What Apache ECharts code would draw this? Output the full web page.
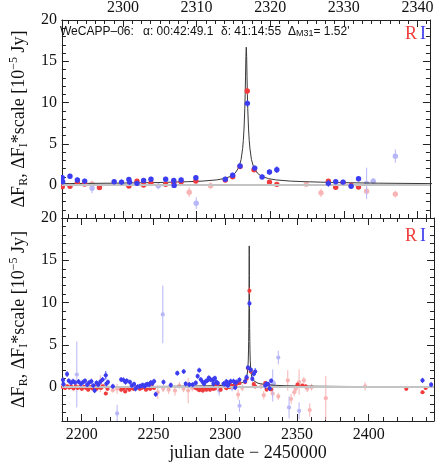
<!DOCTYPE html>
<html>
<head>
<meta charset="utf-8">
<script src="https://cdn.jsdelivr.net/npm/echarts@6/dist/echarts.min.js"></script>
<style>
html, body { margin: 0; padding: 0; background: #fff; }
#chart { width: 436px; height: 463px; }
</style>
</head>
<body>
<div id="chart"></div>
<script>
// R band, good points (julian date - 2450000, flux in 1e-5 Jy, error)
var rDay = [
  2187.0, 2188.4, 2189.9, 2191.3, 2192.7, 2194.3, 2195.8, 2197.2, 2198.7, 2200.1, 2201.6, 2203.0, 2204.5, 2206.0, 2207.4, 2208.8, 2210.3, 2211.7, 2213.4, 2214.8, 2216.8, 2218.0,
  2227.5, 2229.0, 2230.3, 2231.8, 2233.2, 2234.7, 2236.1, 2237.6, 2239.0, 2240.5, 2241.9, 2243.4, 2244.8, 2246.3, 2247.7, 2249.2, 2250.4,
  2279.3, 2280.6, 2281.9, 2283.1, 2284.4, 2285.6, 2286.9, 2288.1, 2289.4, 2290.6,
  2291.75, 2292.8, 2293.8, 2294.8, 2296.8, 2300.8, 2301.9, 2302.8, 2303.8, 2305.8, 2306.9, 2307.9, 2309.9, 2313.9, 2314.9, 2315.9, 2316.88, 2317.8, 2319.9, 2320.9, 2327.9, 2328.9, 2329.9, 2331.0, 2332.0,
  2350.4, 2353.7, 2356.0, 2426.2, 2437.5, 2439.7
];
var rFlux = [
  0.0, -0.1, 0.1, -0.05, 0.05, -0.15, 0.1, -0.1, 0.0, -0.2, 0.05, -0.1, -0.3, 0.0, -0.15, 0.1, -0.2, 0.0, -0.1, 0.1, -0.75, -0.2,
  -0.3, -0.15, -0.5, -0.1, -0.3, -0.1, -0.2, -0.05, 0.0, -0.2, -0.1, 0.0, -0.3, -0.1, -0.2, 0.0, -0.1,
  -0.1, -0.2, -0.35, -0.2, -0.4, -0.2, -0.3, -0.1, -0.3, -0.1,
  -0.2, -0.16, 0.27, 0.12, -0.3, -0.12, 0.47, 0.0, 0.24, 0.08, 0.27, 0.4, 0.47, 0.6, 1.0, 2.24, 11.4, 1.85, 0.35, 0.08, 0.47, -0.28, 0.27, -0.04, -0.25,
  0.3, 0.2, 0.1, -0.2, -0.6, -0.1
];
var rErr = [
  0.2, 0.2, 0.2, 0.2, 0.2, 0.2, 0.2, 0.2, 0.2, 0.2, 0.2, 0.2, 0.2, 0.2, 0.2, 0.2, 0.2, 0.2, 0.2, 0.2, 0.2, 0.2,
  0.2, 0.2, 0.2, 0.2, 0.2, 0.2, 0.2, 0.2, 0.2, 0.2, 0.2, 0.2, 0.2, 0.2, 0.2, 0.2, 0.2,
  0.2, 0.2, 0.2, 0.2, 0.2, 0.2, 0.2, 0.2, 0.2, 0.2,
  0.2, 0.2, 0.2, 0.2, 0.2, 0.2, 0.2, 0.2, 0.2, 0.2, 0.2, 0.2, 0.2, 0.2, 0.2, 0.2, 0.4, 0.2, 0.2, 0.2, 0.2, 0.2, 0.2, 0.2, 0.2,
  0.2, 0.2, 0.2, 0.2, 0.2, 0.2
];
// R band, low-weight points (drawn pale)
var rPaleDay = [2213.0, 2221.7, 2224.7, 2253.0, 2256.8, 2260.6, 2265.0, 2268.0, 2271.0, 2274.2, 2277.0, 2295.8, 2309.0, 2311.9, 2324.9, 2326.9, 2333.1, 2337.0, 2343.6, 2345.9, 2348.1, 2349.2, 2351.5, 2354.8, 2357.2, 2358.9, 2360.2, 2370.1, 2397.5];
var rPaleFlux = [0.4, -0.35, -0.2, -0.6, -0.2, -0.3, -0.4, 0.2, -0.2, -0.4, -0.1, 0.12, -0.87, -0.08, 0.08, -0.95, -0.75, -1.1, 0.8, -1.4, -0.6, -0.2, 0.6, 0.8, -0.2, -2.7, 0.0, -1.3, 0.1];
var rPaleErr = [1.0, 0.3, 0.6, 0.8, 0.4, 0.5, 0.6, 0.4, 0.4, 1.5, 0.4, 0.4, 0.6, 0.4, 0.3, 0.5, 0.5, 0.4, 1.2, 0.6, 0.5, 0.4, 1.5, 0.4, 0.4, 0.8, 0.4, 2.6, 0.5];

// I band (scaled), good points
var iDay = [
  2187.0, 2187.3, 2189.8, 2191.0, 2192.6, 2194.0, 2195.3, 2197.8, 2199.5, 2201.0, 2202.3, 2203.8, 2205.2, 2206.7, 2208.0, 2209.0, 2210.3, 2211.5, 2213.0, 2214.6, 2216.8, 2217.2, 2218.3, 2221.7,
  2227.5, 2229.1, 2230.5, 2231.4, 2233.6, 2235.0, 2236.5, 2237.5, 2239.0, 2240.4, 2241.5, 2242.6, 2243.8, 2244.9, 2246.0, 2247.1, 2248.2, 2249.3, 2250.4, 2251.6,
  2257.0, 2262.1, 2266.6, 2271.1, 2272.5, 2275.0, 2277.4, 2279.5, 2280.8, 2281.9, 2283.0, 2284.3, 2285.3, 2286.5, 2287.6, 2288.6, 2289.7, 2290.9,
  2291.75, 2291.8, 2292.8, 2293.8, 2294.8, 2298.8, 2299.8, 2300.8, 2300.9, 2301.9, 2302.8, 2303.8, 2305.8, 2306.9, 2306.95, 2307.9, 2309.9, 2313.9, 2314.9, 2315.9, 2316.9, 2317.9, 2318.9, 2319.9, 2320.9, 2327.9, 2328.9, 2329.9, 2331.0, 2332.0,
  2437.5, 2443.5
];
var iFlux = [
  0.85, 0.35, 1.55, 0.75, 0.5, 0.7, 0.55, 0.65, 0.4, 0.6, 0.75, 0.3, 0.55, 0.7, 0.2, -0.4, 0.5, 0.3, 0.65, 0.9, 1.4, 0.4, 0.6, 0.1,
  0.9, 0.85, 0.6, 0.75, 0.6, 0.2, 0.35, -0.2, 0.05, 0.1, 0.15, 0.25, 0.1, 0.3, 0.35, 0.3, 0.55, 0.45, 0.7, -0.85,
  0.6, 0.25, 1.65, 1.85, 0.4, 0.3, 0.3, 0.5, 1.3, 2.0, 0.9, 0.6, 0.4, 0.7, 0.8, 1.1, 0.9, 0.85,
  0.9, 0.4, 1.06, 0.6, 0.47, 0.4, 0.35, 0.67, 0.35, 0.2, 0.55, 0.7, 0.7, 0.55, -0.05, 0.6, 0.87, 0.7, 1.18, 2.3, 9.9, 2.05, 0.98, 1.57, 1.85, 0.2, 0.4, 0.35, -0.16, 0.75,
  0.8, 0.3
];
var iErr = [
  0.3, 0.3, 0.35, 0.3, 0.3, 0.3, 0.3, 0.3, 0.3, 0.3, 0.3, 0.3, 0.3, 0.3, 0.3, 0.3, 0.3, 0.3, 0.3, 0.3, 0.5, 0.3, 0.3, 0.3,
  0.3, 0.3, 0.3, 0.3, 0.3, 0.3, 0.3, 0.3, 0.3, 0.3, 0.3, 0.3, 0.3, 0.3, 0.3, 0.3, 0.3, 0.3, 0.3, 0.3,
  0.3, 0.3, 0.3, 0.3, 0.3, 0.3, 0.3, 0.3, 0.3, 0.3, 0.3, 0.3, 0.3, 0.3, 0.3, 0.3, 0.3, 0.3,
  0.3, 0.3, 0.3, 0.3, 0.3, 0.3, 0.3, 0.3, 0.3, 0.3, 0.3, 0.3, 0.3, 0.3, 0.3, 0.3, 0.3, 0.3, 0.3, 0.3, 0.4, 0.3, 0.3, 0.3, 0.4, 0.4, 0.3, 0.3, 0.3, 0.3,
  0.3, 0.3
];
// I band, low-weight points
var iPaleDay = [2196.6, 2224.7, 2256.5, 2295.8, 2304.8, 2309.95, 2333.1, 2334.0, 2337.0, 2344.5, 2351.5];
var iPaleFlux = [1.5, -3.1, 8.6, -0.4, -0.1, -2.2, 0.2, 0.45, 3.5, -2.4, -2.8];
var iPaleErr = [3.9, 1.0, 3.4, 0.6, 0.4, 0.7, 1.9, 0.4, 0.8, 1.3, 1.0];

// microlensing fit
var fitDay = [2186.2, 2246.75, 2276.75, 2291.75, 2298.75, 2304.75, 2308.75, 2310.75, 2312.75, 2313.75, 2314.75, 2315.25, 2315.75, 2316.05, 2316.25, 2316.35, 2316.45, 2316.55, 2316.6, 2316.65, 2316.7, 2316.75,
  2316.8, 2316.85, 2316.9, 2316.95, 2317.05, 2317.15, 2317.25, 2317.45, 2317.75, 2318.25, 2318.75, 2319.75, 2320.75, 2322.75, 2324.75, 2328.75, 2334.75, 2341.75, 2356.75, 2386.75, 2445.5];
var fitFlux = [0.05, 0.08, 0.12, 0.17, 0.22, 0.3, 0.4, 0.47, 0.62, 0.78, 1.08, 1.45, 2.15, 3.1, 4.4, 5.4, 6.9, 9.3, 11.0, 13.2, 15.6, 16.7,
  15.6, 13.2, 11.0, 9.3, 6.9, 5.4, 4.4, 3.1, 2.15, 1.45, 1.08, 0.78, 0.62, 0.47, 0.4, 0.3, 0.22, 0.17, 0.12, 0.08, 0.05];

var zoomRange = [2291.7, 2341.7];
var fullRange = [2186.2, 2445.5];
var fluxRange = [-4, 20];

var RED = '#f03c3c', BLUE = '#3c3cf0', PALE_RED = '#f8b4b4', PALE_BLUE = '#b6b6f8';
var SERIF = '"Liberation Serif", "Times New Roman", serif';
var SANS = '"Liberation Sans", Arial, sans-serif';

function pack(days, flux, err) {
  return days.map(function (d, i) { return [d, flux[i], err[i]]; });
}

function points(axis, data, color, r, z) {
  return {
    type: 'custom',
    xAxisIndex: axis, yAxisIndex: axis,
    clip: true, z: z,
    itemStyle: { color: color },
    data: data,
    renderItem: function (params, api) {
      var t = api.value(0), f = api.value(1), e = api.value(2);
      var c = api.coord([t, f]);
      var hi = api.coord([t, f + e]);
      var lo = api.coord([t, f - e]);
      return {
        type: 'group',
        children: [
          { type: 'line', shape: { x1: c[0], y1: hi[1], x2: c[0], y2: lo[1] }, style: { stroke: color, lineWidth: 1 } },
          { type: 'circle', shape: { cx: c[0], cy: c[1], r: r }, style: { fill: color } }
        ]
      };
    }
  };
}

function panelSeries(axis, r) {
  return [
    {
      type: 'line', xAxisIndex: axis, yAxisIndex: axis, data: [], z: 1,
      markLine: { silent: true, symbol: 'none', label: { show: false },
        lineStyle: { color: '#c4c4c4', width: 2, type: 'solid' }, data: [{ yAxis: 0 }] }
    },
    points(axis, pack(rPaleDay, rPaleFlux, rPaleErr), PALE_RED, r, 2),
    points(axis, pack(iPaleDay, iPaleFlux, iPaleErr), PALE_BLUE, r, 2),
    {
      type: 'line', xAxisIndex: axis, yAxisIndex: axis, z: 3, showSymbol: false, clip: true,
      lineStyle: { color: '#383838', width: 1 },
      data: fitDay.map(function (d, i) { return [d, fitFlux[i]]; })
    },
    points(axis, pack(rDay, rFlux, rErr), RED, r, 4),
    points(axis, pack(iDay, iFlux, iErr), BLUE, r, 5)
  ];
}

function plain(v) { return String(v); }

function xAx(grid, range, pos, labels, minorSplit, name) {
  return {
    type: 'value', gridIndex: grid, position: pos, min: range[0], max: range[1], splitNumber: 5,
    axisLine: { show: true, onZero: false, lineStyle: { color: '#222', width: 1 } },
    axisTick: { show: true, inside: true, length: 7, lineStyle: { color: '#222' } },
    minorTick: { show: true, splitNumber: minorSplit, length: 4, lineStyle: { color: '#222' } },
    splitLine: { show: false },
    axisLabel: { show: labels, showMinLabel: false, showMaxLabel: false, margin: pos === 'top' ? 4 : 6,
      formatter: plain, fontFamily: SERIF, fontSize: 16, color: '#111' },
    name: name || '', nameLocation: 'middle', nameGap: 23,
    nameTextStyle: { fontFamily: SERIF, fontSize: 18, color: '#111' }
  };
}
function yAx(grid, pos, labels) {
  return {
    type: 'value', gridIndex: grid, position: pos, min: fluxRange[0], max: fluxRange[1], splitNumber: 5,
    axisLine: { show: true, onZero: false, lineStyle: { color: '#222', width: 1 } },
    axisTick: { show: true, inside: true, length: 7, lineStyle: { color: '#222' } },
    minorTick: { show: true, splitNumber: 5, length: 4, lineStyle: { color: '#222' } },
    splitLine: { show: false },
    axisLabel: { show: labels, showMinLabel: false, showMaxLabel: true, hideOverlap: false, margin: 5,
      formatter: plain, fontFamily: SERIF, fontSize: 16, color: '#111' },
    name: labels ? 'ΔF{s|R}, ΔF{s|I}*scale [10{p|−5} Jy]' : '',
    nameLocation: 'middle', nameRotate: 90, nameGap: 19,
    nameTextStyle: {
      fontFamily: SERIF, fontSize: 18, color: '#111', lineHeight: 22,
      rich: {
        s: { fontFamily: SERIF, fontSize: 12, verticalAlign: 'bottom', lineHeight: 14, color: '#111' },
        p: { fontFamily: SERIF, fontSize: 12, verticalAlign: 'top', lineHeight: 14, color: '#111' }
      }
    }
  };
}

function label(x, y, text, font, color, rich) {
  return { type: 'text', left: x, top: y, z: 10,
    style: { text: text, font: font, fill: color, rich: rich || {} } };
}

var subKey = { s: { font: '9px ' + SANS, fill: '#111', verticalAlign: 'bottom', lineHeight: 10 } };

var chart = echarts.init(document.getElementById('chart'));
chart.setOption({
  backgroundColor: '#fff',
  animation: false,
  grid: [
    { left: 50, top: 17, width: 384, height: 201 },
    { left: 50, top: 218, width: 384, height: 203 }
  ],
  xAxis: [
    xAx(0, zoomRange, 'top', true, 8),
    xAx(0, zoomRange, 'bottom', false, 8),
    xAx(1, fullRange, 'bottom', true, 5, 'julian date − 2450000'),
    xAx(1, fullRange, 'top', false, 5)
  ],
  yAxis: [
    yAx(0, 'left', true),
    yAx(0, 'right', false),
    yAx(1, 'left', true),
    yAx(1, 'right', false)
  ],
  graphic: [
    label(60, 26, 'WeCAPP–06:', '12px ' + SANS, '#111'),
    label(143, 26, 'α: 00:42:49.1', '12px ' + SANS, '#111'),
    label(221, 26, 'δ: 41:14:55', '12px ' + SANS, '#111'),
    label(288, 26, 'Δ{s|M31}= 1.52\'', '12px ' + SANS, '#111', subKey),
    label(405, 25, 'R', '18px ' + SERIF, RED),
    label(420, 25, 'I', '18px ' + SERIF, BLUE),
    label(405, 227, 'R', '18px ' + SERIF, RED),
    label(420, 227, 'I', '18px ' + SERIF, BLUE)
  ],
  series: panelSeries(0, 2.7).concat(panelSeries(2, 2.1))
});
</script>
</body>
</html>
